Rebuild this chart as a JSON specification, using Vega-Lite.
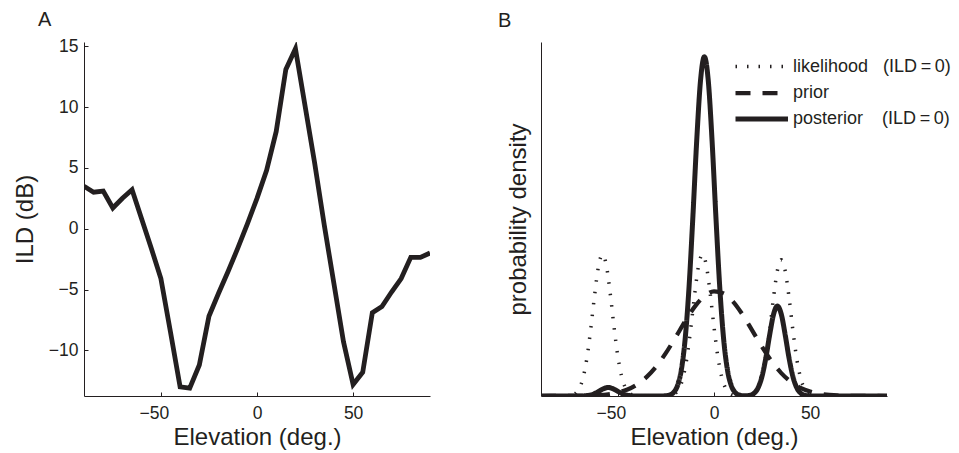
{
  "$schema": "https://vega.github.io/schema/vega-lite/v6.json",
  "padding": {"left": 13, "top": 10, "right": 0, "bottom": 0},
  "spacing": 68,
  "config": {
    "font": "Liberation Sans",
    "view": {"stroke": null},
    "axis": {
      "domainColor": "#231f20", "tickColor": "#231f20", "labelColor": "#231f20", "titleColor": "#231f20",
      "labelFontSize": 17.5, "titleFontSize": 24, "titleFontWeight": "normal", "grid": false,
      "tickSize": -4, "domainWidth": 1, "tickWidth": 1
    },
    "title": {"fontSize": 20, "fontWeight": "normal", "anchor": "start", "frame": "group", "color": "#231f20"},
    "legend": {"labelFontSize": 18, "labelColor": "#231f20", "labelFont": "Liberation Sans", "labelLimit": 400}
  },
  "hconcat": [
    {
      "width": 346,
      "height": 354,
      "title": {"text": "A", "dx": -46, "offset": 7},
      "data": {"values": [
        {"e": -90, "ild": 3.5}, {"e": -85, "ild": 3.0}, {"e": -80, "ild": 3.1}, {"e": -75, "ild": 1.7},
        {"e": -70, "ild": 2.5}, {"e": -65, "ild": 3.2}, {"e": -60, "ild": 0.8}, {"e": -55, "ild": -1.6},
        {"e": -50, "ild": -4.1}, {"e": -45, "ild": -8.5}, {"e": -40, "ild": -13.0}, {"e": -35, "ild": -13.1},
        {"e": -30, "ild": -11.2}, {"e": -25, "ild": -7.2}, {"e": -20, "ild": -5.3}, {"e": -15, "ild": -3.5},
        {"e": -10, "ild": -1.6}, {"e": -5, "ild": 0.4}, {"e": 0, "ild": 2.5}, {"e": 5, "ild": 4.8},
        {"e": 10, "ild": 8.0}, {"e": 15, "ild": 13.1}, {"e": 20, "ild": 14.8}, {"e": 25, "ild": 10.1},
        {"e": 30, "ild": 5.4}, {"e": 35, "ild": 0.3}, {"e": 40, "ild": -4.5}, {"e": 45, "ild": -9.3},
        {"e": 50, "ild": -12.8}, {"e": 55, "ild": -11.8}, {"e": 60, "ild": -6.9}, {"e": 65, "ild": -6.4},
        {"e": 70, "ild": -5.2}, {"e": 75, "ild": -4.1}, {"e": 80, "ild": -2.35}, {"e": 85, "ild": -2.35},
        {"e": 90, "ild": -2.0}
      ]},
      "mark": {"type": "line", "color": "#231f20", "strokeWidth": 4.8, "strokeJoin": "miter", "clip": true},
      "encoding": {
        "x": {"field": "e", "type": "quantitative", "scale": {"domain": [-90, 90], "nice": false, "zero": false},
              "axis": {"values": [-50, 0, 50], "title": "Elevation (deg.)", "labelPadding": 12, "titlePadding": 4,
                       "labelOffset": {"condition": {"test": "datum.value < 0", "value": -7}, "value": 0}}},
        "y": {"field": "ild", "type": "quantitative", "scale": {"domain": [-13.75, 15.35], "nice": false, "zero": false},
              "axis": {"values": [-10, -5, 0, 5, 10, 15], "title": "ILD (dB)", "labelPadding": 10, "titlePadding": 11}}
      }
    },
    {
      "width": 346,
      "height": 354,
      "title": {"text": "B", "dx": -43, "offset": 11},
      "data": {"values": [
        {"e": -90, "d": 0, "s": "likelihood"}, {"e": -76, "d": 0.0006, "s": "likelihood"}, {"e": -74, "d": 0.0024, "s": "likelihood"},
        {"e": -72, "d": 0.0079, "s": "likelihood"}, {"e": -70, "d": 0.0224, "s": "likelihood"}, {"e": -68, "d": 0.054, "s": "likelihood"},
        {"e": -66, "d": 0.111, "s": "likelihood"}, {"e": -64, "d": 0.195, "s": "likelihood"}, {"e": -62, "d": 0.29, "s": "likelihood"},
        {"e": -60, "d": 0.369, "s": "likelihood"}, {"e": -58, "d": 0.4, "s": "likelihood"}, {"e": -56, "d": 0.369, "s": "likelihood"},
        {"e": -54, "d": 0.29, "s": "likelihood"}, {"e": -52, "d": 0.195, "s": "likelihood"}, {"e": -50, "d": 0.111, "s": "likelihood"},
        {"e": -48, "d": 0.054, "s": "likelihood"}, {"e": -46, "d": 0.0224, "s": "likelihood"}, {"e": -44, "d": 0.0079, "s": "likelihood"},
        {"e": -42, "d": 0.0024, "s": "likelihood"}, {"e": -40, "d": 0.0006, "s": "likelihood"}, {"e": -30, "d": 0, "s": "likelihood"},
        {"e": -24, "d": 0.0006, "s": "likelihood"}, {"e": -22, "d": 0.0024, "s": "likelihood"}, {"e": -20, "d": 0.0079, "s": "likelihood"},
        {"e": -18, "d": 0.0224, "s": "likelihood"}, {"e": -16, "d": 0.054, "s": "likelihood"}, {"e": -14, "d": 0.111, "s": "likelihood"},
        {"e": -12, "d": 0.195, "s": "likelihood"}, {"e": -10, "d": 0.29, "s": "likelihood"}, {"e": -8, "d": 0.369, "s": "likelihood"},
        {"e": -6, "d": 0.4, "s": "likelihood"}, {"e": -4, "d": 0.369, "s": "likelihood"}, {"e": -2, "d": 0.29, "s": "likelihood"},
        {"e": 0, "d": 0.195, "s": "likelihood"}, {"e": 2, "d": 0.111, "s": "likelihood"}, {"e": 4, "d": 0.054, "s": "likelihood"},
        {"e": 6, "d": 0.0224, "s": "likelihood"}, {"e": 8, "d": 0.0079, "s": "likelihood"}, {"e": 10, "d": 0.0024, "s": "likelihood"},
        {"e": 12, "d": 0.0006, "s": "likelihood"}, {"e": 15, "d": 0.0001, "s": "likelihood"}, {"e": 17, "d": 0.0006, "s": "likelihood"},
        {"e": 19, "d": 0.0023, "s": "likelihood"}, {"e": 21, "d": 0.0076, "s": "likelihood"}, {"e": 23, "d": 0.0216, "s": "likelihood"},
        {"e": 25, "d": 0.052, "s": "likelihood"}, {"e": 27, "d": 0.107, "s": "likelihood"}, {"e": 29, "d": 0.1875, "s": "likelihood"},
        {"e": 31, "d": 0.28, "s": "likelihood"}, {"e": 33, "d": 0.355, "s": "likelihood"}, {"e": 35, "d": 0.385, "s": "likelihood"},
        {"e": 37, "d": 0.355, "s": "likelihood"}, {"e": 39, "d": 0.28, "s": "likelihood"}, {"e": 41, "d": 0.1875, "s": "likelihood"},
        {"e": 43, "d": 0.107, "s": "likelihood"}, {"e": 45, "d": 0.052, "s": "likelihood"}, {"e": 47, "d": 0.0216, "s": "likelihood"},
        {"e": 49, "d": 0.0076, "s": "likelihood"}, {"e": 51, "d": 0.0023, "s": "likelihood"}, {"e": 53, "d": 0.0006, "s": "likelihood"},
        {"e": 60, "d": 0, "s": "likelihood"}, {"e": 90, "d": 0, "s": "likelihood"},

        {"e": -90, "d": 0, "s": "prior"}, {"e": -80, "d": 0.00005, "s": "prior"}, {"e": -70, "d": 0.0004, "s": "prior"},
        {"e": -65, "d": 0.001, "s": "prior"}, {"e": -60, "d": 0.0022, "s": "prior"}, {"e": -55, "d": 0.0048, "s": "prior"},
        {"e": -50, "d": 0.0097, "s": "prior"}, {"e": -45, "d": 0.0183, "s": "prior"}, {"e": -40, "d": 0.0325, "s": "prior"},
        {"e": -35, "d": 0.0539, "s": "prior"}, {"e": -30, "d": 0.0837, "s": "prior"}, {"e": -25, "d": 0.1217, "s": "prior"},
        {"e": -20, "d": 0.1657, "s": "prior"}, {"e": -15, "d": 0.2114, "s": "prior"}, {"e": -10, "d": 0.2525, "s": "prior"},
        {"e": -5, "d": 0.2823, "s": "prior"}, {"e": 0, "d": 0.2956, "s": "prior"}, {"e": 5, "d": 0.2898, "s": "prior"},
        {"e": 10, "d": 0.2661, "s": "prior"}, {"e": 15, "d": 0.2288, "s": "prior"}, {"e": 20, "d": 0.1841, "s": "prior"},
        {"e": 25, "d": 0.1388, "s": "prior"}, {"e": 30, "d": 0.098, "s": "prior"}, {"e": 35, "d": 0.0647, "s": "prior"},
        {"e": 40, "d": 0.0401, "s": "prior"}, {"e": 45, "d": 0.0232, "s": "prior"}, {"e": 50, "d": 0.0126, "s": "prior"},
        {"e": 55, "d": 0.0064, "s": "prior"}, {"e": 60, "d": 0.003, "s": "prior"}, {"e": 70, "d": 0.0006, "s": "prior"},
        {"e": 80, "d": 0.0001, "s": "prior"}, {"e": 90, "d": 0, "s": "prior"},

        {"e": -90, "d": 0, "s": "posterior"}, {"e": -71, "d": 0, "s": "posterior"}, {"e": -69, "d": 0.0002, "s": "posterior"},
        {"e": -67, "d": 0.0007, "s": "posterior"}, {"e": -65, "d": 0.002, "s": "posterior"}, {"e": -63, "d": 0.0049, "s": "posterior"},
        {"e": -61, "d": 0.0099, "s": "posterior"}, {"e": -59, "d": 0.0162, "s": "posterior"}, {"e": -57, "d": 0.0217, "s": "posterior"},
        {"e": -55, "d": 0.024, "s": "posterior"}, {"e": -53, "d": 0.0217, "s": "posterior"}, {"e": -51, "d": 0.0162, "s": "posterior"},
        {"e": -49, "d": 0.0099, "s": "posterior"}, {"e": -47, "d": 0.0049, "s": "posterior"}, {"e": -45, "d": 0.002, "s": "posterior"},
        {"e": -43, "d": 0.0007, "s": "posterior"}, {"e": -41, "d": 0.0002, "s": "posterior"}, {"e": -39, "d": 0, "s": "posterior"},
        {"e": -29, "d": 0, "s": "posterior"}, {"e": -27, "d": 0.0002, "s": "posterior"}, {"e": -25, "d": 0.0008, "s": "posterior"},
        {"e": -23, "d": 0.003, "s": "posterior"}, {"e": -21, "d": 0.0101, "s": "posterior"}, {"e": -19, "d": 0.0292, "s": "posterior"},
        {"e": -17, "d": 0.0738, "s": "posterior"}, {"e": -15, "d": 0.1615, "s": "posterior"}, {"e": -13, "d": 0.3067, "s": "posterior"},
        {"e": -11, "d": 0.5048, "s": "posterior"}, {"e": -9, "d": 0.7206, "s": "posterior"}, {"e": -7, "d": 0.892, "s": "posterior"},
        {"e": -5, "d": 0.958, "s": "posterior"}, {"e": -3, "d": 0.892, "s": "posterior"}, {"e": -1, "d": 0.7206, "s": "posterior"},
        {"e": 1, "d": 0.5048, "s": "posterior"}, {"e": 3, "d": 0.3067, "s": "posterior"}, {"e": 5, "d": 0.1615, "s": "posterior"},
        {"e": 7, "d": 0.0738, "s": "posterior"}, {"e": 9, "d": 0.0292, "s": "posterior"}, {"e": 11, "d": 0.0101, "s": "posterior"},
        {"e": 13, "d": 0.003, "s": "posterior"}, {"e": 15, "d": 0.0009, "s": "posterior"}, {"e": 17, "d": 0.0008, "s": "posterior"},
        {"e": 19, "d": 0.0025, "s": "posterior"}, {"e": 21, "d": 0.0085, "s": "posterior"}, {"e": 23, "d": 0.0239, "s": "posterior"},
        {"e": 25, "d": 0.056, "s": "posterior"}, {"e": 27, "d": 0.1085, "s": "posterior"}, {"e": 29, "d": 0.174, "s": "posterior"},
        {"e": 31, "d": 0.2311, "s": "posterior"}, {"e": 33, "d": 0.254, "s": "posterior"}, {"e": 35, "d": 0.2311, "s": "posterior"},
        {"e": 37, "d": 0.174, "s": "posterior"}, {"e": 39, "d": 0.1085, "s": "posterior"}, {"e": 41, "d": 0.056, "s": "posterior"},
        {"e": 43, "d": 0.0239, "s": "posterior"}, {"e": 45, "d": 0.0085, "s": "posterior"}, {"e": 47, "d": 0.0025, "s": "posterior"},
        {"e": 49, "d": 0.0006, "s": "posterior"}, {"e": 51, "d": 0.0001, "s": "posterior"}, {"e": 53, "d": 0, "s": "posterior"},
        {"e": 90, "d": 0, "s": "posterior"}
      ]},
      "mark": {"type": "line", "color": "#231f20", "interpolate": "monotone", "clip": true},
      "encoding": {
        "x": {"field": "e", "type": "quantitative", "scale": {"domain": [-90, 90], "nice": false, "zero": false},
              "axis": {"values": [-50, 0, 50], "title": "Elevation (deg.)", "labelPadding": 12, "titlePadding": 4,
                       "labelOffset": {"condition": {"test": "datum.value < 0", "value": -7}, "value": 0}}},
        "y": {"field": "d", "type": "quantitative", "scale": {"domain": [0, 1], "nice": false},
              "axis": {"title": "probability density", "labels": false, "ticks": false, "titlePadding": 11}},
        "strokeDash": {"field": "s", "type": "nominal",
                       "scale": {"domain": ["likelihood", "prior", "posterior"], "range": [[1.5, 10], [15, 12], [1, 0]]},
                       "legend": {"title": null, "orient": "none", "legendX": 649, "legendY": 12, "symbolType": "M-1,0H4",
                                  "symbolSize": 441, "symbolStrokeColor": "#231f20", "labelOffset": 34, "rowPadding": 4,
                                  "labelExpr": "datum.label == 'likelihood' ? 'likelihood\u00a0\u00a0\u00a0(ILD\u2009=\u20090)' : datum.label == 'posterior' ? 'posterior\u00a0\u00a0\u2002(ILD\u2009=\u20090)' : datum.label"}},
        "strokeWidth": {"field": "s", "type": "nominal",
                        "scale": {"domain": ["likelihood", "prior", "posterior"], "range": [3.5, 5, 4.5]},
                        "legend": {"title": null, "orient": "none", "legendX": 649, "legendY": 12, "symbolType": "M-1,0H4",
                                   "symbolSize": 441, "symbolStrokeColor": "#231f20", "labelOffset": 34, "rowPadding": 4,
                                   "labelExpr": "datum.label == 'likelihood' ? 'likelihood\u00a0\u00a0\u00a0(ILD\u2009=\u20090)' : datum.label == 'posterior' ? 'posterior\u00a0\u00a0\u2002(ILD\u2009=\u20090)' : datum.label"}}
      }
    }
  ]
}
